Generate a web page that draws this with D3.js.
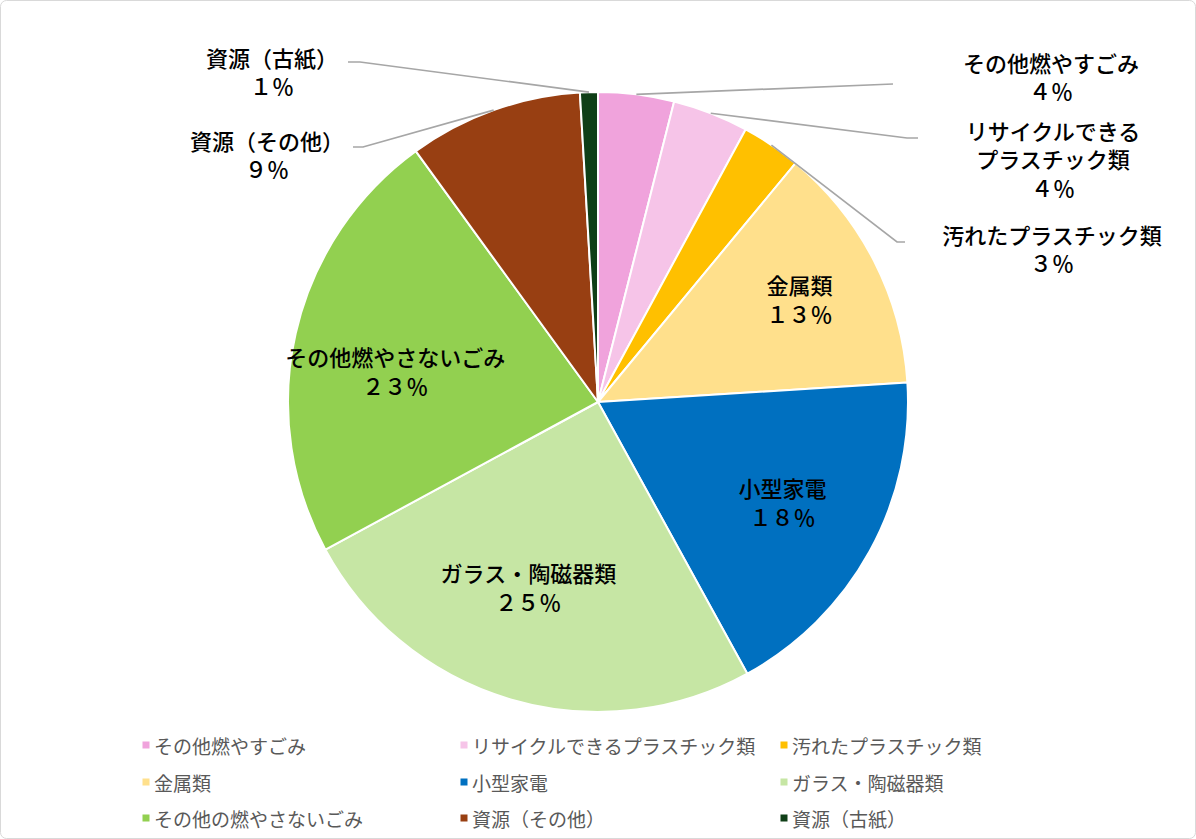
<!DOCTYPE html>
<html>
<head>
<meta charset="utf-8">
<script src="https://cdn.jsdelivr.net/npm/d3@7"></script>
<style>
  body { margin: 0; background: #fff; }
  svg { display: block; font-family: "Noto Sans CJK JP", "Noto Sans", sans-serif; }
</style>
</head>
<body>
<div id="chart"></div>
<script>
// slice data (percent of total)
let categories = ["その他燃やすごみ", "リサイクルできるプラスチック類", "汚れたプラスチック類", "金属類", "小型家電",
  "ガラス・陶磁器類", "その他燃やさないごみ", "資源（その他）", "資源（古紙）"];
let legendNames = ["その他燃やすごみ", "リサイクルできるプラスチック類", "汚れたプラスチック類", "金属類", "小型家電",
  "ガラス・陶磁器類", "その他の燃やさないごみ", "資源（その他）", "資源（古紙）"];
let values = [3.95, 3.95, 3.1, 13.0, 18.0, 25.1, 22.9, 9.07, 0.93];
let colors = ["#F0A3DC", "#F6C4E8", "#FFC000", "#FFE08C", "#0070C0", "#C6E6A4", "#92D050", "#983F12", "#0F3F17"];
// how each data label is written on the chart
let labelLines = [["その他燃やすごみ"], ["リサイクルできる", "プラスチック類"], ["汚れたプラスチック類"], ["金属類"], ["小型家電"],
  ["ガラス・陶磁器類"], ["その他燃やさないごみ"], ["資源（その他）"], ["資源（古紙）"]];

let width = 1196, height = 839;
let cx = 598, cy = 402, R = 310;

// label layout: inside labels get a nudge, outside labels get a box centre + leader path
let labelLayout = [
  { out: true, x: 1051, y: 76, elbow: [893, 84], end: [893, 84] },
  { out: true, x: 1053, y: 158, elbow: [907, 138], end: [918, 138] },
  { out: true, x: 1052, y: 248, elbow: [897, 242], end: [905, 242] },
  { out: false, dx: 10, dy: -6 },
  { out: false, dx: -4, dy: -4 },
  { out: false, dx: -9, dy: -22 },
  { out: false, dx: 7, dy: 16 },
  { out: true, x: 267, y: 154, elbow: [363, 147], end: [353, 147] },
  { out: true, x: 272, y: 71, elbow: [360, 62], end: [348, 62] }
];

function fullWidth(n) {
  return String(n).replace(/[0-9]/g, c => String.fromCharCode(0xFF10 + (+c))) + "％";
}

let svg = d3.select("#chart").append("svg")
  .attr("width", width)
  .attr("height", height);

svg.append("rect")
  .attr("x", 0.5).attr("y", 0.5)
  .attr("width", width - 1).attr("height", height - 1)
  .attr("rx", 6)
  .attr("fill", "#fff")
  .attr("stroke", "#d9d9d9");

let total = d3.sum(values);
let data = categories.map((c, i) => ({ name: c, value: values[i], i: i }));

let pie = d3.pie().sort(null).value(d => d.value);
let arcs = pie(data);

let arc = d3.arc().innerRadius(0).outerRadius(R);
let labelArc = d3.arc().innerRadius(215).outerRadius(215);

let g = svg.append("g").attr("transform", `translate(${cx},${cy})`);

g.selectAll("path.slice")
  .data(arcs)
  .enter()
  .append("path")
  .attr("class", "slice")
  .attr("d", arc)
  .attr("fill", d => colors[d.data.i])
  .attr("stroke", "#fff")
  .attr("stroke-width", 2)
  .attr("stroke-linejoin", "round");

// leader lines
arcs.forEach(function (d) {
  let lay = labelLayout[d.data.i];
  if (!lay.out) return;
  let a = (d.startAngle + d.endAngle) / 2;
  let p0 = [cx + R * Math.sin(a), cy - R * Math.cos(a)];
  svg.append("polyline")
    .attr("points", [p0, lay.elbow, lay.end].map(p => p.join(",")).join(" "))
    .attr("fill", "none")
    .attr("stroke", "#a6a6a6")
    .attr("stroke-width", 1.7);
});

// data labels
arcs.forEach(function (d) {
  let i = d.data.i;
  let lay = labelLayout[i];
  let pos;
  if (lay.out) {
    pos = [lay.x, lay.y];
  } else {
    let c = labelArc.centroid(d);
    pos = [cx + c[0] + lay.dx, cy + c[1] + lay.dy];
  }
  let lines = labelLines[i].concat([fullWidth(Math.round(d.data.value / total * 100))]);
  let t = svg.append("text")
    .attr("text-anchor", "middle")
    .attr("font-size", 22)
    .attr("font-weight", 500)
    .attr("fill", "#000");
  lines.forEach(function (s, k) {
    t.append("tspan")
      .attr("x", pos[0])
      .attr("y", pos[1] + (k - (lines.length - 1) / 2) * 28.5)
      .attr("dominant-baseline", "central")
      .text(s);
  });
});

// legend
let colX = [146, 464, 784];
let rowY = [745, 782, 818];
let legend = svg.append("g");
legendNames.forEach(function (name, i) {
  let x = colX[i % 3], y = rowY[Math.floor(i / 3)];
  legend.append("rect")
    .attr("x", x - 3.5).attr("y", y - 3.5)
    .attr("width", 7).attr("height", 7)
    .attr("fill", colors[i]);
  legend.append("text")
    .attr("x", x + 8)
    .attr("y", y)
    .attr("dominant-baseline", "central")
    .attr("font-size", 19)
    .attr("fill", "#595959")
    .text(name);
});
</script>
</body>
</html>
